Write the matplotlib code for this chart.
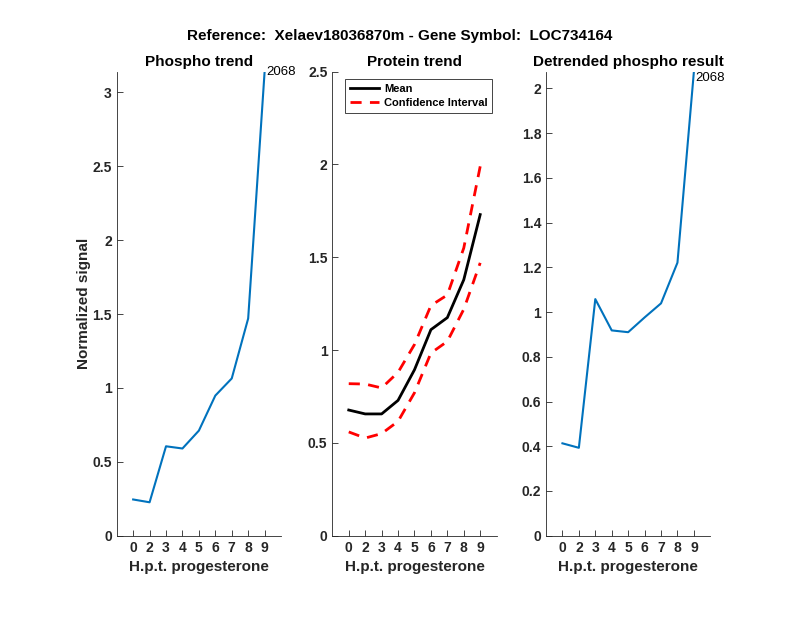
#!/usr/bin/env python3

# Import special modules ...
import matplotlib
matplotlib.use("Agg")
import matplotlib.pyplot

# ******************************************************************************

# Define data ...
hours = [0, 2, 3, 4, 5, 6, 7, 8, 9]
phospho = [0.245, 0.226, 0.605, 0.590, 0.711, 0.948, 1.064, 1.470, 3.140]
protein_mean = [0.677, 0.656, 0.656, 0.729, 0.894, 1.110, 1.175, 1.379, 1.730]
protein_upper = [0.819, 0.817, 0.796, 0.880, 1.030, 1.240, 1.297, 1.550, 1.990]
protein_lower = [0.559, 0.526, 0.550, 0.616, 0.770, 0.984, 1.047, 1.220, 1.470]
detrended = [0.413, 0.393, 1.058, 0.918, 0.910, 0.976, 1.039, 1.221, 2.075]
peptide_id = "2068"

# Configure matplotlib ...
matplotlib.pyplot.rcParams.update({"font.family" : ["Liberation Sans", "DejaVu Sans"], "font.size" : 10})

grey = "#262626"
blue = "#0072BD"

# ******************************************************************************

def style_axes(ax, ymax, yticks):
    pos = range(1, len(hours) + 1)
    ax.set_xlim(0, 10)
    ax.set_ylim(0, ymax)
    ax.set_xticks(list(pos))
    ax.set_xticklabels([str(h) for h in hours], fontweight = "bold", color = grey)
    ax.set_yticks(yticks)
    ax.set_yticklabels(["{:g}".format(t) for t in yticks], fontweight = "bold", color = grey)
    for side in ["top", "right"]:
        ax.spines[side].set_visible(False)
    for side in ["left", "bottom"]:
        ax.spines[side].set_color(grey)
        ax.spines[side].set_linewidth(0.6)
    ax.tick_params(direction = "in", length = 4, width = 0.6, color = grey, labelsize = 10)
    ax.set_xlabel("H.p.t. progesterone", fontweight = "bold", fontsize = 11, color = grey)

# Create plot ...
fg = matplotlib.pyplot.figure(figsize = (8, 6.18), dpi = 100)
fg.text(0.5, 0.941, "Reference:  Xelaev18036870m - Gene Symbol:  LOC734164", ha = "center", va = "center", fontweight = "bold", fontsize = 11)

b = 0.1332
h = 0.7508
w = 0.2054
ax1 = fg.add_axes([0.1459, b, w, h])
ax2 = fg.add_axes([0.4154, b, w, h])
ax3 = fg.add_axes([0.6825, b, w, h])
x = list(range(1, len(hours) + 1))

# Phospho trend ...
ax1.plot(x, phospho, color = blue, linewidth = 1.5)
style_axes(ax1, max(phospho), [0, 0.5, 1, 1.5, 2, 2.5, 3])
ax1.text(x[-1] + 0.1, phospho[-1], peptide_id, ha = "left", va = "center", fontsize = 9.5)
ax1.set_title("Phospho trend", fontweight = "bold", fontsize = 11, pad = 4)
ax1.set_ylabel("Normalized signal", fontweight = "bold", fontsize = 11, color = grey, labelpad = 1)

# Protein trend ...
ax2.plot(x, protein_mean, color = "black", linewidth = 2, label = "Mean")
ax2.plot(x, protein_upper, color = "red", linewidth = 2, linestyle = (0, (4, 3)), label = "Confidence Interval")
ax2.plot(x, protein_lower, color = "red", linewidth = 2, linestyle = (0, (4, 3)))
style_axes(ax2, 2.5, [0, 0.5, 1, 1.5, 2, 2.5])
ax2.set_title("Protein trend", fontweight = "bold", fontsize = 11, pad = 4)
lg = ax2.legend(loc = "upper left", bbox_to_anchor = (0.08, 0.985), fancybox = False, framealpha = 1, prop = {"weight" : "bold", "size" : 8}, handlelength = 2.6, handletextpad = 0.4, borderpad = 0.45, labelspacing = 0.35, borderaxespad = 0.0)
lg.get_frame().set_edgecolor(grey)
lg.get_frame().set_linewidth(0.6)

# Detrended phospho ...
ax3.plot(x, detrended, color = blue, linewidth = 1.5)
style_axes(ax3, max(detrended), [0, 0.2, 0.4, 0.6, 0.8, 1, 1.2, 1.4, 1.6, 1.8, 2])
ax3.text(x[-1] + 0.1, detrended[-1], peptide_id, ha = "left", va = "top", fontsize = 9.5)
ax3.set_title("Detrended phospho result", fontweight = "bold", fontsize = 11, pad = 4)

# Save plot ...
fg.savefig("out.png", dpi = 100)
matplotlib.pyplot.close(fg)
